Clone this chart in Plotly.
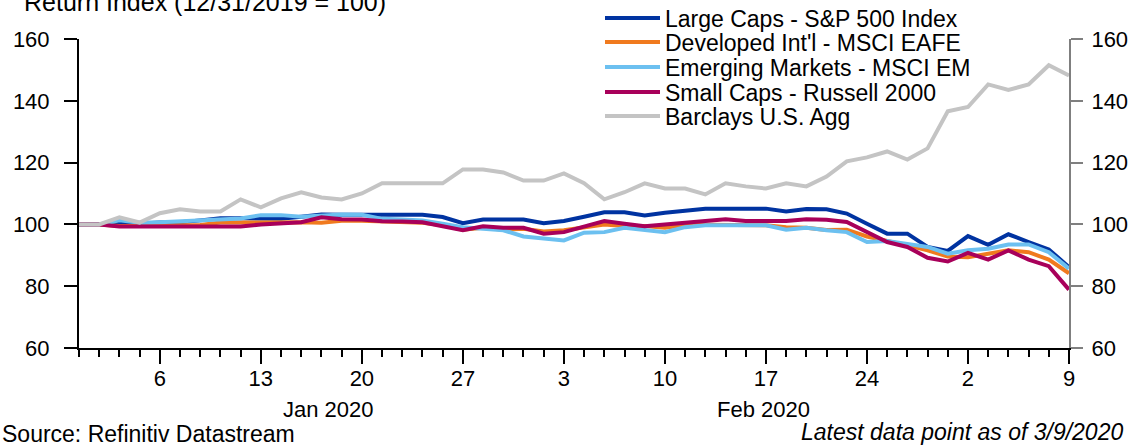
import pandas as pd
import plotly.graph_objects as go

# ---- data (business days 12/31/2019 .. 3/9/2020) ----
dates = pd.bdate_range("2019-12-31", "2020-03-09")

sp500 = [100, 100, 100.2, 100.2, 100.6, 100.7, 101.3, 102.0, 102.0, 101.8,
         101.8, 102.5, 103.2, 103.1, 103.1, 103.1, 103.1, 103.1, 102.4, 100.4,
         101.6, 101.6, 101.6, 100.4, 101.1, 102.5, 103.9, 103.9, 102.9, 103.8,
         104.5, 105.1, 105.1, 105.1, 105.1, 104.2, 105.0, 104.9, 103.5, 100.2,
         97.0, 97.0, 92.7, 91.4, 96.2, 93.4, 96.8, 94.3, 91.9, 86.2]
eafe = [100, 100, 99.5, 99.5, 99.5, 99.6, 99.8, 100.6, 100.7, 100.7,
        100.7, 100.7, 100.5, 101.2, 101.2, 101.0, 100.8, 100.5, 99.7, 98.3,
        98.9, 98.3, 98.6, 97.7, 98.1, 99.0, 100.0, 99.5, 99.5, 98.9,
        99.7, 99.9, 99.9, 99.8, 99.7, 99.1, 98.9, 98.2, 98.3, 96.1,
        94.8, 93.2, 91.6, 89.6, 89.4, 90.5, 91.6, 91.0, 88.6, 84.2]
em = [100, 100, 101.3, 100.5, 100.7, 101.0, 101.3, 101.8, 101.9, 103.0,
      103.0, 102.5, 103.0, 103.2, 103.1, 101.8, 101.6, 101.3, 100.2, 99.1,
      98.6, 98.1, 96.1, 95.4, 94.8, 97.3, 97.5, 98.9, 98.3, 97.5,
      99.1, 99.7, 99.7, 99.7, 99.7, 98.3, 98.9, 98.1, 97.5, 94.3,
      94.6, 93.7, 92.7, 90.5, 91.6, 92.1, 93.5, 93.5, 91.0, 85.7]
russell = [100, 100, 99.3, 99.3, 99.3, 99.3, 99.3, 99.3, 99.3, 100.0,
           100.2, 100.7, 102.3, 101.7, 101.6, 101.0, 100.9, 100.7, 99.4, 98.1,
           99.4, 98.9, 98.9, 97.0, 97.5, 99.2, 101.1, 100.2, 99.4, 100.0,
           100.4, 101.1, 101.7, 101.1, 101.1, 101.1, 101.7, 101.5, 100.8, 97.5,
           94.3, 92.7, 89.2, 88.0, 90.8, 88.6, 91.6, 88.6, 86.5, 78.9]
agg = [100, 100, 102.3, 100.6, 103.6, 104.9, 104.2, 104.2, 108.1, 105.5,
       108.4, 110.4, 108.7, 108.1, 110.0, 113.3, 113.3, 113.3, 113.3, 117.8,
       117.8, 116.8, 114.2, 114.2, 116.5, 113.3, 108.1, 110.4, 113.3, 111.6,
       111.6, 109.7, 113.3, 112.3, 111.6, 113.3, 112.3, 115.5, 120.4, 121.7,
       123.6, 121.0, 124.6, 136.6, 138.0, 145.3, 143.5, 145.3, 151.5, 148.2]

series_names = ["Large Caps - S&P 500 Index", "Developed Int'l - MSCI EAFE",
                "Emerging Markets - MSCI EM", "Small Caps - Russell 2000",
                "Barclays U.S. Agg"]
series_values = [sp500, eafe, em, russell, agg]
colors = ["#0033A1", "#F07A1E", "#6CC0F0", "#A8005A", "#C4C4C4"]
series_axes = ["y", "y", "y", "y", "y2"]

tick_dates = pd.date_range("2020-01-06", "2020-03-09", freq="W-MON")
tick_text = [str(d.day) for d in tick_dates]
month_labels = ["Jan 2020", "Feb 2020"]
y_ticks = [60, 80, 100, 120, 140, 160]

FONT = "Liberation Sans, Arial, sans-serif"
W, H = 1131, 447
L, R, T, B = 79, 62, 39, 99
pw, ph = W - L - R, H - T - B

def px_x(x):
    return (x - L) / pw

def px_y(y):
    return (H - B - y) / ph

fig = go.Figure()
legend_rows = [18, 42, 67, 92, 116]
for k, (name, vals, col, ax) in enumerate(zip(series_names, series_values, colors, series_axes)):
    lg = "legend" if k == 0 else f"legend{k+1}"
    fig.add_trace(go.Scatter(x=dates, y=vals, name=name, mode="lines", yaxis=ax,
                             line=dict(color=col, width=4), legend=lg))

layout_legends = {}
for k, yc in enumerate(legend_rows):
    key = "legend" if k == 0 else f"legend{k+1}"
    layout_legends[key] = dict(x=px_x(600), y=px_y(yc), xanchor="left", yanchor="middle",
                               bgcolor="rgba(0,0,0,0)", borderwidth=0, itemwidth=55,
                               font=dict(family=FONT, size=23, color="#000"))

fig.update_layout(
    width=W, height=H,
    margin=dict(l=L, r=R, t=T, b=B, pad=0, autoexpand=False),
    paper_bgcolor="white", plot_bgcolor="white",
    font=dict(family=FONT, size=22, color="#000"),
    showlegend=True,
    **layout_legends,
)

fig.update_xaxes(
    type="date",
    range=[dates[0], dates[-1]],
    rangebreaks=[dict(bounds=["sat", "mon"])],
    tickmode="array", tickvals=tick_dates, ticktext=tick_text,
    ticks="outside", ticklen=14, tickwidth=2, tickcolor="#000",
    minor=dict(tickmode="array", tickvals=dates, ticks="outside", ticklen=7,
               tickwidth=2, tickcolor="#000", showgrid=False),
    showline=True, linecolor="#000", linewidth=2,
    showgrid=False, zeroline=False,
    tickfont=dict(family=FONT, size=22, color="#000"),
    ticklabelstandoff=-4,
)

fig.update_layout(
    yaxis=dict(range=[60, 160], tickmode="array", tickvals=y_ticks,
               ticks="outside", ticklen=13, tickwidth=2, tickcolor="#000",
               showline=True, linecolor="#000", linewidth=2,
               showgrid=False, zeroline=False, ticklabelstandoff=10,
               tickfont=dict(family=FONT, size=22, color="#000")),
    yaxis2=dict(range=[60, 160], tickmode="array", tickvals=y_ticks,
                overlaying="y", side="right", anchor="x",
                ticks="outside", ticklen=12, tickwidth=2, tickcolor="#7F7F7F",
                showline=True, linecolor="#7F7F7F", linewidth=2,
                showgrid=False, zeroline=False, ticklabelstandoff=4,
                tickfont=dict(family=FONT, size=22, color="#000")),
)

annotations = [
    dict(text="Return Index (12/31/2019 = 100)", x=px_x(22), y=px_y(2),
         xanchor="left", yanchor="middle", font=dict(size=25)),
    dict(text=month_labels[0], x=px_x(328), y=px_y(409), xanchor="center", yanchor="middle"),
    dict(text=month_labels[1], x=px_x(763), y=px_y(409), xanchor="center", yanchor="middle"),
    dict(text="Source: Refinitiv Datastream", x=px_x(0), y=px_y(434),
         xanchor="left", yanchor="middle", font=dict(size=23)),
    dict(text="<i>Latest data point as of 3/9/2020</i>", x=px_x(1125), y=px_y(432),
         xanchor="right", yanchor="middle", font=dict(size=23)),
]
for a in annotations:
    a.update(xref="paper", yref="paper", showarrow=False)
    a.setdefault("font", {})
    a["font"].update(family=FONT, color="#000")
    a["font"].setdefault("size", 22)
fig.update_layout(annotations=annotations)

fig.write_html("out.html", config={"displayModeBar": False},
               post_script="document.body.style.margin='0';document.body.style.overflow='hidden';")
